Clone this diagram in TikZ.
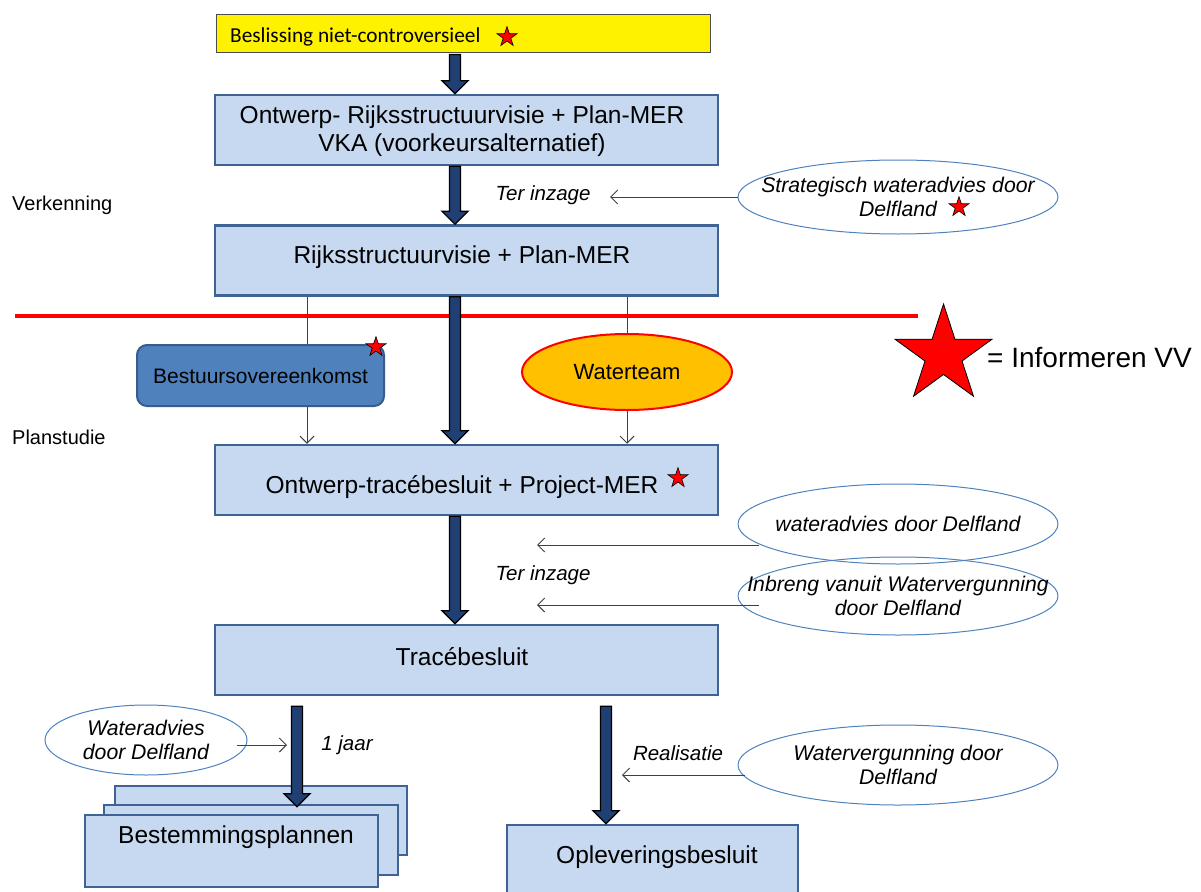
\documentclass[tikz,border=0pt]{standalone}
\usepackage{fontspec}
\setmainfont{Liberation Sans}
\newfontfamily\calib{Carlito}
\usetikzlibrary{shapes.geometric,arrows.meta,calc}
\definecolor{boxfill}{HTML}{C6D9F0}
\definecolor{boxborder}{HTML}{3F6493}
\definecolor{navyarrow}{HTML}{203F73}
\definecolor{ellborder}{HTML}{4F81BD}
\definecolor{bofill}{HTML}{4F81BD}
\definecolor{boborder}{HTML}{385D8A}
\definecolor{wtfill}{HTML}{FFC000}
\definecolor{thinline}{HTML}{404040}
\newcommand\fatarrow[2]{%
  \draw[fatarr] let \p1=(#1), \p2=(#2) in
  (\x1-5.5,\y1) -- (\x1-5.5,\y2+13) -- (\x1-13,\y2+13) -- (\x1,\y2) --
  (\x1+13,\y2+13) -- (\x1+5.5,\y2+13) -- (\x1+5.5,\y1) -- cycle;}
% five-point star: #1 style, #2 centre, #3 outer radius
\newcommand\pstar[3]{%
  \draw[#1, shift={(#2)}] (-90:#3) -- (-54:#3/2.618) -- (-18:#3) -- (18:#3/2.618) --
  (54:#3) -- (90:#3/2.618) -- (126:#3) -- (162:#3/2.618) -- (198:#3) -- (234:#3/2.618) -- cycle;}
\begin{document}
\begin{tikzpicture}[x=1pt,y=-1pt,
  box/.style={draw=boxborder, line width=2.5pt, fill=boxfill, minimum width=503pt,
    minimum height=70pt, inner sep=0pt},
  boxtext/.style={font=\fontsize{24.5}{28}\selectfont, align=center, inner sep=0pt},
  ellbox/.style={draw=ellborder, line width=1pt, ellipse, inner sep=0pt},
  elltext/.style={font=\fontsize{21.2}{24}\selectfont\itshape, align=center, inner sep=0pt},
  lbl/.style={font=\fontsize{20}{24}\selectfont, inner sep=0pt},
  ilbl/.style={font=\fontsize{20.5}{24}\selectfont\itshape, inner sep=0pt},
  starsty/.style={fill=red, draw=black, line width=0.6pt, line join=miter},
  fatarr/.style={fill=navyarrow, draw=black, line width=1.3pt, line join=miter},
  thinarr/.style={draw=thinline, line width=1pt, -{Straight Barb[length=7pt,width=14pt]}},
  thin/.style={draw=thinline, line width=1pt}]
\useasboundingbox (0,0) rectangle (1201,891);

% top yellow box
\node[draw=black!70, line width=1pt, fill=yellow, minimum width=494pt, minimum height=38pt,
  inner sep=0pt] (yb) at (463,34) {};
\node[anchor=west, inner sep=0pt, font=\calib\fontsize{21.3}{24}\selectfont] (ybt) at (230,37) {Beslissing niet-controversieel};
\pstar{starsty}{507,37}{10.5}

% main boxes
\node[box] (b1) at (466.5,130) {};
\node[boxtext] (b1t) at (462,131) {Ontwerp- Rijksstructuurvisie + Plan-MER\\VKA (voorkeursalternatief)};
\node[box] (b2) at (466.5,260.5) {};
\node[boxtext] (b2t) at (462,257) {Rijksstructuurvisie + Plan-MER};
\node[box] (b3) at (466.5,480) {};
\node[boxtext] (b3t) at (462,487) {Ontwerp-trac\'ebesluit + Project-MER};
\pstar{starsty}{678,478}{10.5}
\node[box] (b4) at (466.5,660) {};
\node[boxtext] (b4t) at (462,657) {Trac\'ebesluit};

% red divider
\draw[red, line width=4pt] (15,316) coordinate (rl1) -- (918,316) coordinate (rl2);

% side labels
\node[lbl, anchor=west] (verk) at (12,205) {Verkenning};
\node[lbl, anchor=west] (plan) at (12,437) {Planstudie};

% bestuursovereenkomst and waterteam
\node[draw=boborder, line width=2pt, fill=bofill, rounded corners=10pt, minimum width=247pt,
  minimum height=61pt, inner sep=0pt, font=\fontsize{21}{25}\selectfont] (bo) at (260.5,375.5) {Bestuursovereenkomst};
\pstar{starsty}{376,347}{10.5}
\node[ellipse, draw=red, line width=2pt, fill=wtfill, minimum width=210pt, minimum height=76pt,
  inner sep=0pt, font=\fontsize{22}{26}\selectfont] (wt) at (627,372) {Waterteam};

% legend
\pstar{starsty, line width=0.8pt}{943.5,355}{51}
\node[anchor=west, inner sep=0pt, font=\fontsize{28}{32}\selectfont] (legt) at (987,358) {= Informeren VV};

% ellipses right
\node[ellbox, minimum width=320pt, minimum height=74pt] (e1) at (898,197) {};
\node[elltext] (e1t) at (898,197) {Strategisch wateradvies door\\Delfland};
\pstar{starsty}{959,207}{10.5}
\node[ellbox, minimum width=320pt, minimum height=80pt] (e2) at (898,524) {};
\node[elltext] (e2t) at (898,524) {wateradvies door Delfland};
\node[ellbox, minimum width=320pt, minimum height=78pt] (e3) at (898,596) {};
\node[elltext] (e3t) at (898,596) {Inbreng vanuit Watervergunning\\door Delfland};
\node[ellbox, minimum width=320pt, minimum height=80pt] (e4) at (898,765) {};
\node[elltext] (e4t) at (898,765) {Watervergunning door\\Delfland};
\node[ellbox, minimum width=202pt, minimum height=70pt] (e5) at (146,740) {};
\node[elltext] (e5t) at (146,740) {Wateradvies\\door Delfland};

% italic labels
\node[ilbl] (ti1) at (543,195) {Ter inzage};
\node[ilbl] (ti2) at (543,575) {Ter inzage};
\node[ilbl] (jaar) at (347,745) {1 jaar};
\node[ilbl] (real) at (678,753) {Realisatie};

% bottom boxes
\node[draw=boxborder, line width=2.5pt, fill=boxfill, minimum width=292pt, minimum height=69pt, inner sep=0pt] (bp3) at (261,820.5) {};
\node[draw=boxborder, line width=2.5pt, fill=boxfill, minimum width=294pt, minimum height=70pt, inner sep=0pt] (bp2) at (251,840) {};
\node[draw=boxborder, line width=2.5pt, fill=boxfill, minimum width=293pt, minimum height=72pt, inner sep=0pt] (bp1) at (231.5,851) {};
\node[boxtext] (bpt) at (236,837) {Bestemmingsplannen};
\node[draw=boxborder, line width=2.5pt, fill=boxfill, minimum width=291pt, minimum height=72pt, inner sep=0pt] (ob) at (652.5,861) {};
\node[boxtext] (obt) at (657,857) {Opleveringsbesluit};

% coordinates for arrows
\coordinate (xa) at (455,0);
\coordinate (xb) at (297,0);
\coordinate (xc) at (606,0);
\coordinate (xl) at (307,0);
\coordinate (xr) at (627,0);
\coordinate (t1) at (610,0);
\coordinate (t2) at (537,0);
\coordinate (t4) at (622,0);
\coordinate (t5) at (287,745);
\coordinate (a0s) at ($(yb.south -| xa)+(0,1)$);
\coordinate (a0e) at (b1.north -| xa);
\coordinate (a1s) at (b1.south -| xa);
\coordinate (a1e) at (b2.north -| xa);
\coordinate (a2s) at (b2.south -| xa);
\coordinate (a2e) at (b3.north -| xa);
\coordinate (a3s) at (b3.south -| xa);
\coordinate (a3e) at (b4.north -| xa);
\coordinate (a4s) at ($(b4.south -| xb)+(0,10)$);
\coordinate (a4e) at ($(bp3.north -| xb)+(0,22)$);
\coordinate (a5s) at ($(b4.south -| xc)+(0,10)$);
\coordinate (a5e) at (ob.north -| xc);
\coordinate (e2s) at ($(e2.center)+(-139,21)$);
\coordinate (e3s) at ($(e3.center)+(-139,9)$);
\coordinate (e4s) at ($(e4.center)+(-153,10)$);

% thin connectors
\draw[thin] (b2.south -| xl) -- (bo.north -| xl);
\draw[thin] (b2.south -| xr) -- (wt.north);
\draw[thinarr] (bo.south -| xl) -- (b3.north -| xl);
\draw[thinarr] (wt.south) -- (b3.north -| xr);
\draw[thinarr] (e1.west) -- (e1.west -| t1);
\draw[thinarr] (e2s) -- (e2s -| t2);
\draw[thinarr] (e3s) -- (e3s -| t2);
\draw[thinarr] (e4s) -- (e4s -| t4);
\draw[thinarr] ($(e5.east)+(-11,5)$) -- (t5);

% thick arrows
\fatarrow{a0s}{a0e}
\fatarrow{a1s}{a1e}
\fatarrow{a2s}{a2e}
\fatarrow{a3s}{a3e}
\fatarrow{a4s}{a4e}
\fatarrow{a5s}{a5e}
\end{tikzpicture}
\end{document}
